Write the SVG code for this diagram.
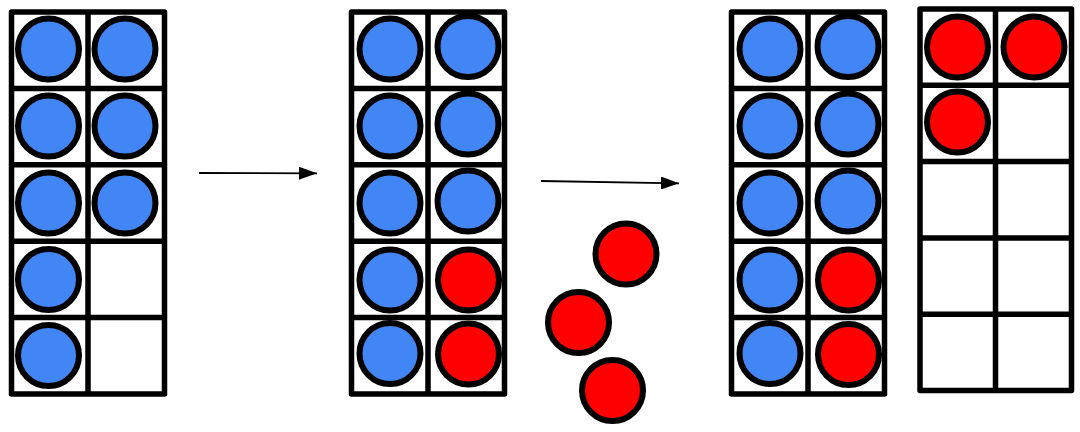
<svg xmlns="http://www.w3.org/2000/svg" width="1080" height="432" viewBox="0 0 1080 432">
<style>
.frame{fill:#fff;stroke:#000;stroke-width:5.5;stroke-linejoin:round}
.grid{stroke:#000;stroke-width:5.5;fill:none}
.b{fill:#4285f4;stroke:#000;stroke-width:6}
.r{fill:#ff0000;stroke:#000;stroke-width:6}
.arrow{stroke:#000;stroke-width:1.8;fill:none}
</style>
<defs>
<marker id="ah" markerWidth="18" markerHeight="13" refX="18" refY="6.5" orient="auto" markerUnits="userSpaceOnUse" viewBox="0 0 18 13">
<path d="M0,0 L18,6.5 L0,13 Z" fill="#000"/>
</marker>
</defs>
<rect width="1080" height="432" fill="#fff"/>
<g id="frame1">
<rect class="frame" x="11.5" y="12" width="153" height="382"/>
<path class="grid" d="M88,12V394M11.5,88.4H164.5M11.5,164.8H164.5M11.5,241.2H164.5M11.5,317.6H164.5"/>
<circle class="b" cx="48.5" cy="49" r="30.5"/>
<circle class="b" cx="125" cy="49" r="30.5"/>
<circle class="b" cx="48.5" cy="126" r="30.5"/>
<circle class="b" cx="125" cy="126" r="30.5"/>
<circle class="b" cx="48.5" cy="203" r="30.5"/>
<circle class="b" cx="125" cy="203" r="30.5"/>
<circle class="b" cx="48.5" cy="279.5" r="30.5"/>
<circle class="b" cx="48.5" cy="355.5" r="30.5"/>
</g>
<g id="frame2">
<rect class="frame" x="351.5" y="12" width="153" height="382"/>
<path class="grid" d="M428,12V394M351.5,88.4H504.5M351.5,164.8H504.5M351.5,241.2H504.5M351.5,317.6H504.5"/>
<circle class="b" cx="390" cy="49" r="30.5"/>
<circle class="b" cx="468" cy="46.5" r="30.5"/>
<circle class="b" cx="390" cy="126" r="30.5"/>
<circle class="b" cx="468" cy="124" r="30.5"/>
<circle class="b" cx="390" cy="203" r="30.5"/>
<circle class="b" cx="468" cy="201" r="30.5"/>
<circle class="b" cx="390" cy="280" r="30.5"/>
<circle class="r" cx="468.5" cy="280" r="30.5"/>
<circle class="b" cx="390" cy="353.5" r="30.5"/>
<circle class="r" cx="468.5" cy="354" r="30.5"/>
</g>
<g id="frame3">
<rect class="frame" x="731.5" y="12" width="153" height="382"/>
<path class="grid" d="M808,12V394M731.5,88.4H884.5M731.5,164.8H884.5M731.5,241.2H884.5M731.5,317.6H884.5"/>
<circle class="b" cx="770" cy="49" r="30.5"/>
<circle class="b" cx="848" cy="46.5" r="30.5"/>
<circle class="b" cx="770" cy="126" r="30.5"/>
<circle class="b" cx="848" cy="124" r="30.5"/>
<circle class="b" cx="770" cy="203" r="30.5"/>
<circle class="b" cx="848" cy="201" r="30.5"/>
<circle class="b" cx="770" cy="280" r="30.5"/>
<circle class="r" cx="848.5" cy="280" r="30.5"/>
<circle class="b" cx="770" cy="353.5" r="30.5"/>
<circle class="r" cx="848.5" cy="354.5" r="30.5"/>
</g>
<g id="frame4">
<rect class="frame" x="920" y="9" width="151.5" height="381.5"/>
<path class="grid" d="M995.5,9V390.5M920,85.3H1071.5M920,161.6H1071.5M920,237.9H1071.5M920,314.2H1071.5"/>
<circle class="r" cx="957.5" cy="47" r="30.5"/>
<circle class="r" cx="1034" cy="47" r="30.5"/>
<circle class="r" cx="957.5" cy="122" r="30.5"/>
</g>
<g id="loose">
<circle class="r" cx="626" cy="254" r="30.5"/>
<circle class="r" cx="578.5" cy="322.5" r="30.5"/>
<circle class="r" cx="612.5" cy="390.5" r="30.5"/>
</g>
<g id="connectors">
<line class="arrow" x1="199" y1="173" x2="317" y2="173.3" marker-end="url(#ah)"/>
<line class="arrow" x1="541" y1="181" x2="679" y2="183.3" marker-end="url(#ah)"/>
</g>
</svg>
